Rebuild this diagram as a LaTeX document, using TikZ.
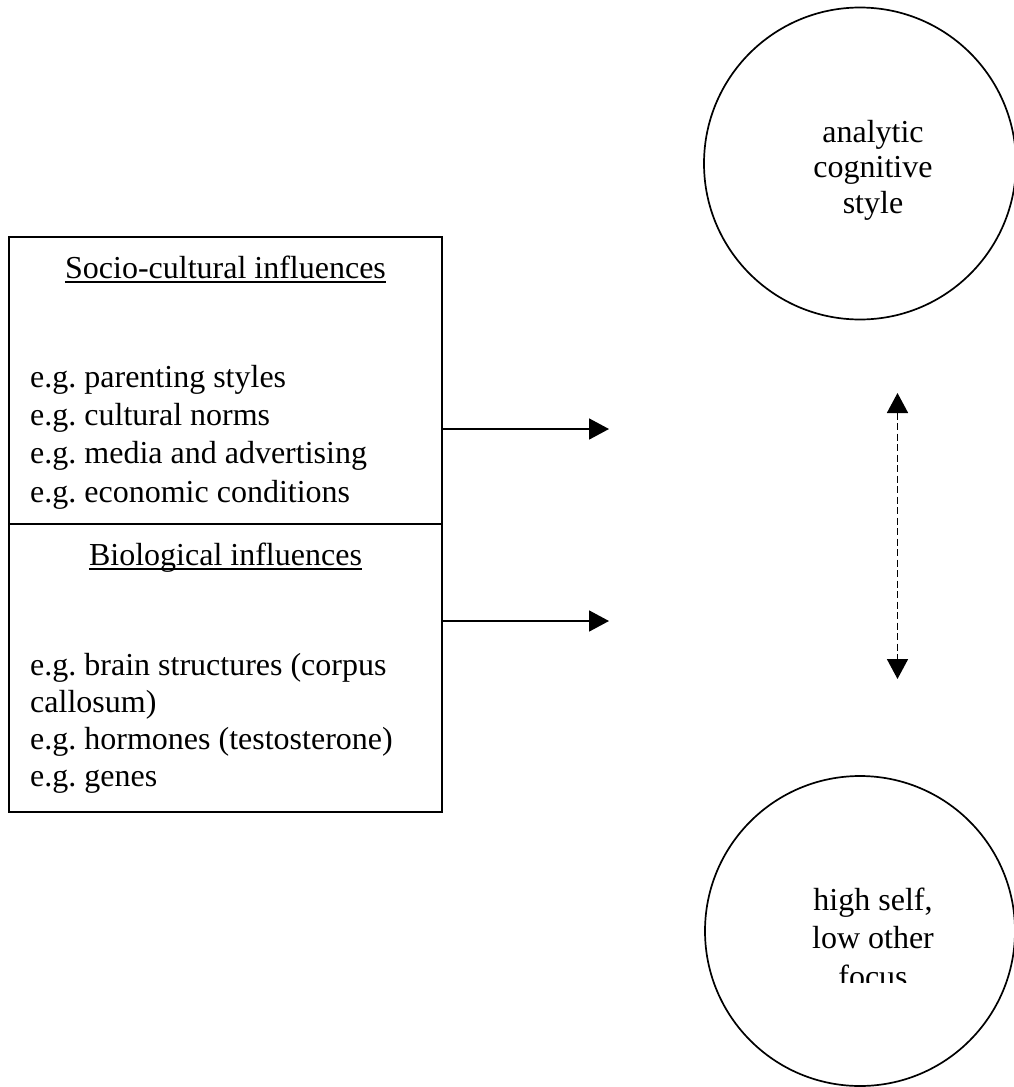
\documentclass[tikz,border=0pt]{standalone}
\usepackage{fontspec}
\setmainfont{Liberation Serif}
\usetikzlibrary{arrows.meta}
\frenchspacing
\begin{document}
\begin{tikzpicture}[x=1pt,y=-1pt,
  lw/.style={line width=1.7pt},
  panel/.style={draw,lw,rectangle,minimum width=433pt,inner sep=0pt},
  txt/.style={inner sep=0pt,font=\fontsize{32}{38}\selectfont},
  item/.style={txt,anchor=base west},
  head/.style={txt,anchor=base},
  ctext/.style={txt,anchor=base},
  circ/.style={draw,lw,circle,inner sep=0pt},
  arr/.style={lw,-{Triangle[length=20pt,width=21pt]}},
  darr/.style={lw,dash pattern=on 7pt off 3.5pt,{Triangle[length=20pt,width=21pt]}-{Triangle[length=20pt,width=21pt]}},
  uline/.style={line width=1.6pt}
]
\useasboundingbox (0,0) rectangle (1013,1087);
% left boxes
\node[panel,minimum height=287pt] (soc) at (225.5,380.5) {};
\node[panel,minimum height=288pt] (bio) at (225.5,668) {};
% headings
\node[head] (h1) at (225.5,278) {Socio-cultural influences};
\draw[uline] ([yshift=-4pt]h1.base west) -- ([yshift=-4pt]h1.base east);
\node[head] (h2) at (225.5,565) {Biological influences};
\draw[uline] ([yshift=-4pt]h2.base west) -- ([yshift=-4pt]h2.base east);
% items
\node[item] (s1) at (30,387) {e.g. parenting styles};
\node[item] (s2) at (30,425) {e.g. cultural norms};
\node[item] (s3) at (30,463) {e.g. media and advertising};
\node[item] (s4) at (30,502) {e.g. economic conditions};
\node[item] (b1) at (30,675) {e.g. brain structures (corpus};
\node[item] (b2) at (30,712) {callosum)};
\node[item] (b3) at (30,749) {e.g. hormones (testosterone)};
\node[item] (b4) at (30,786) {e.g. genes};
% arrows
\coordinate (a1) at (609,429);
\coordinate (a2) at (609,621);
\draw[arr] (soc.east |- a1) -- (a1);
\draw[arr] (bio.east |- a2) -- (a2);
\coordinate (d1) at (897.5,393);
\coordinate (d2) at (897.5,679);
\draw[darr] (d1) -- (d2);
% circles
\node[circ,minimum size=312pt] (c1) at (860,163.5) {};
\node[circ,minimum size=310pt] (c2) at (860,931) {};
\node[ctext] (t1) at (873,142) {analytic};
\node[ctext] (t2) at (873,177) {cognitive};
\node[ctext] (t3) at (873,213) {style};
\node[ctext] (u1) at (873,910) {high self,};
\node[ctext] (u2) at (873,948) {low other};
\begin{scope}
\clip (700,850) rectangle (1013,982);
\node[ctext] (u3) at (873,987) {focus};
\end{scope}
\end{tikzpicture}
\end{document}
